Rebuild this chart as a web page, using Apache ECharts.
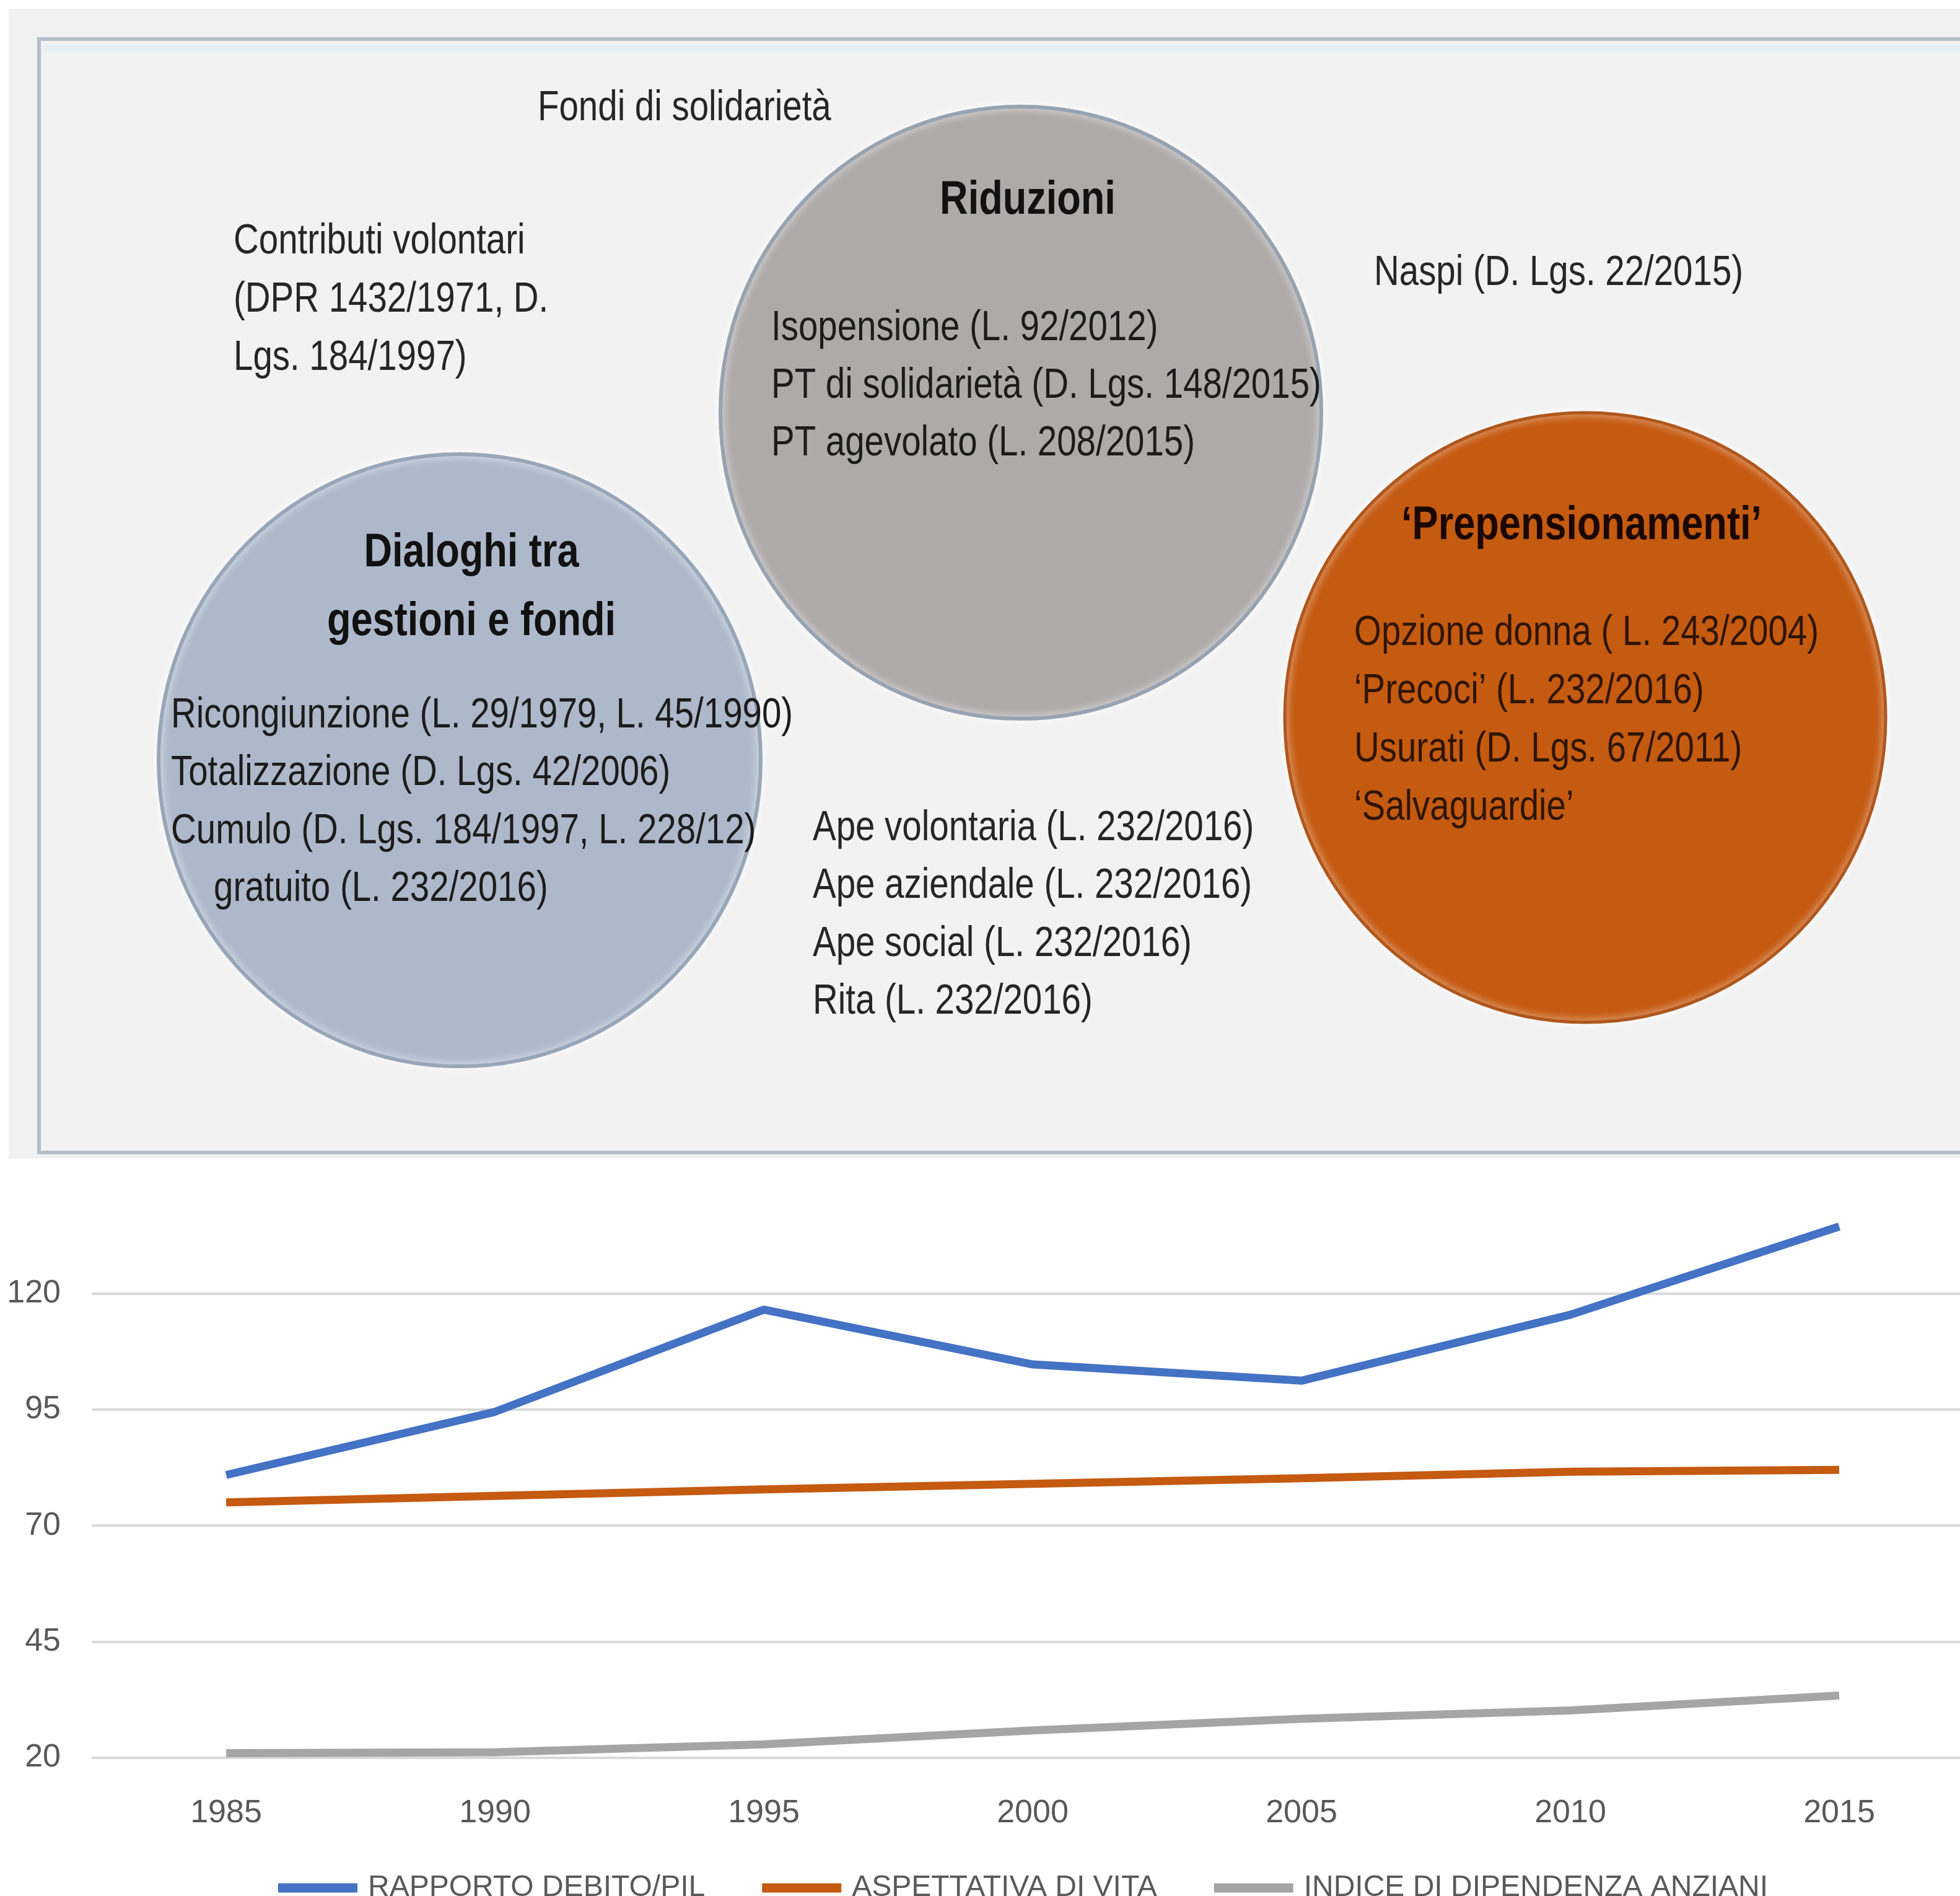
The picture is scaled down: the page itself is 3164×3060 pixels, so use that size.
<!DOCTYPE html>
<html>
<head>
<meta charset="utf-8">
<script src="https://cdn.jsdelivr.net/npm/echarts@6/dist/echarts.min.js"></script>
<style>
html,body{margin:0;padding:0;background:#ffffff;}
#chart{width:3164px;height:3060px;}
</style>
</head>
<body>
<div id="chart"></div>
<script>
// ---- data ----
const years = ['1985', '1990', '1995', '2000', '2005', '2010', '2015'];
const debtToGdp = [80.9, 94.5, 116.5, 104.7, 101.2, 115.4, 134.4];
const lifeExpectancy = [75.0, 76.4, 77.8, 79.0, 80.2, 81.6, 82.0];
const oldAgeDependency = [21.0, 21.2, 22.9, 25.9, 28.4, 30.2, 33.4];
const seriesNames = ['RAPPORTO DEBITO/PIL', 'ASPETTATIVA DI VITA', 'INDICE DI DIPENDENZA ANZIANI'];

// ---- diagram texts ----
const fondiText = ['Fondi di solidarietà'];
const contributiText = ['Contributi volontari', '(DPR 1432/1971, D.', 'Lgs. 184/1997)'];
const riduzioniTitle = ['Riduzioni'];
const riduzioniText = ['Isopensione (L. 92/2012)', 'PT di solidarietà (D. Lgs. 148/2015)', 'PT agevolato (L. 208/2015)'];
const naspiText = ['Naspi (D. Lgs. 22/2015)'];
const dialoghiTitle = ['Dialoghi tra', 'gestioni e fondi'];
const dialoghiText = ['Ricongiunzione (L. 29/1979, L. 45/1990)', 'Totalizzazione (D. Lgs. 42/2006)', 'Cumulo (D. Lgs. 184/1997, L. 228/12)', 'gratuito (L. 232/2016)'];
const apeText = ['Ape volontaria (L. 232/2016)', 'Ape aziendale (L. 232/2016)', 'Ape social (L. 232/2016)', 'Rita (L. 232/2016)'];
const prepTitle = ['\u2018Prepensionamenti\u2019'];
const prepText = ['Opzione donna ( L. 243/2004)', '\u2018Precoci\u2019 (L. 232/2016)', 'Usurati (D. Lgs. 67/2011)', '\u2018Salvaguardie\u2019'];

const FAM = '"Liberation Sans", Arial, sans-serif';
const REG = '68px ' + FAM;
const BOLD = 'bold 76px ' + FAM;
const NARROW = 0.83;

function lines(arr, x, y0, step, font, fill, align, xs) {
  return arr.map((t, i) => ({
    type: 'text', z: 10,
    x: xs ? xs[i] : x, y: y0 + 5 + i * step,
    scaleX: NARROW, scaleY: 1, originX: 0, originY: 0,
    style: {
      text: t, x: 0, y: 0, font: font, fill: fill,
      textAlign: align || 'left', textVerticalAlign: 'middle'
    }
  }));
}

const graphics = [
  { type: 'rect', z: 1, shape: { x: 14, y: 14, width: 3164, height: 1856 }, style: { fill: '#f1f1f1' } },
  { type: 'rect', z: 2, shape: { x: 63, y: 63, width: 3140, height: 1797 },
    style: { fill: '#f2f2f2', stroke: '#b4bec9', lineWidth: 6 } },
  { type: 'rect', z: 2, shape: { x: 70, y: 72, width: 3130, height: 12 }, style: { fill: '#e8f0f7' } },
  // bubbles
  { type: 'ellipse', z: 5, shape: { cx: 1648, cy: 666, rx: 485, ry: 494 },
    style: { fill: '#aeaaaa', stroke: '#97a3b1', lineWidth: 6, shadowBlur: 14, shadowColor: 'rgba(255,255,255,0.9)' } },
  { type: 'ellipse', z: 5, shape: { cx: 742, cy: 1227, rx: 486, ry: 494 },
    style: { fill: '#adb9ca', stroke: '#98a6b8', lineWidth: 6, shadowBlur: 14, shadowColor: 'rgba(255,255,255,0.9)' } },
  { type: 'ellipse', z: 5, shape: { cx: 2559, cy: 1158, rx: 485, ry: 492 },
    style: { fill: '#c55a11', stroke: '#b0571d', lineWidth: 5, shadowBlur: 14, shadowColor: 'rgba(255,255,255,0.9)' } }
]
.concat(lines(fondiText, 868, 170, 0, REG, '#262626'))
.concat(lines(contributiText, 377, 385, 94, REG, '#262626'))
.concat(lines(riduzioniTitle, 1659, 319, 0, BOLD, '#111111', 'center'))
.concat(lines(riduzioniText, 1245, 525, 93, REG, '#1c1c1c'))
.concat(lines(naspiText, 2218, 436, 0, REG, '#262626'))
.concat(lines(dialoghiTitle, 761, 888, 111, BOLD, '#111111', 'center'))
.concat(lines(dialoghiText, 0, 1150, 93.5, REG, '#1c1c1c', 'left', [276, 276, 276, 345]))
.concat(lines(apeText, 1312, 1332, 93.5, REG, '#262626'))
.concat(lines(prepTitle, 2553, 844, 0, BOLD, '#1a0800', 'center'))
.concat(lines(prepText, 2186, 1017, 94, REG, '#2e1503'));

const chart = echarts.init(document.getElementById('chart'), null, { renderer: 'canvas' });
chart.setOption({
  backgroundColor: '#ffffff',
  animation: false,
  graphic: graphics,
  grid: { left: 148, right: -22, top: 1900, bottom: 223, containLabel: false, outerBoundsMode: 'none' },
  legend: {
    left: 444, top: 3014, width: 2700,
    itemWidth: 128, itemHeight: 15, itemGap: 92,
    icon: 'rect',
    textStyle: { fontSize: 48, fontFamily: FAM, color: '#595959', lineHeight: 56, padding: [0, 0, 0, 12] },
    data: seriesNames
  },
  xAxis: {
    type: 'category', data: years, boundaryGap: true,
    axisLine: { show: false }, axisTick: { show: false },
    axisLabel: { fontSize: 52, fontFamily: FAM, color: '#595959', margin: 64 }
  },
  yAxis: {
    type: 'value', min: 20, max: 145, interval: 25,
    axisLine: { show: false }, axisTick: { show: false },
    axisLabel: { fontSize: 52, fontFamily: FAM, color: '#595959', margin: 50,
      formatter: v => (v === 145 ? '' : String(v)) },
    splitLine: { lineStyle: { width: 4, color: ['#d9d9d9', '#d9d9d9', '#d9d9d9', '#d9d9d9', '#d9d9d9', 'rgba(0,0,0,0)'] } }
  },
  series: [
    { name: seriesNames[0], type: 'line', data: debtToGdp, symbol: 'none', lineStyle: { width: 13, color: '#4472c4' }, itemStyle: { color: '#4472c4' } },
    { name: seriesNames[1], type: 'line', data: lifeExpectancy, symbol: 'none', lineStyle: { width: 13, color: '#c55a11' }, itemStyle: { color: '#c55a11' } },
    { name: seriesNames[2], type: 'line', data: oldAgeDependency, symbol: 'none', lineStyle: { width: 13, color: '#a5a5a5' }, itemStyle: { color: '#a5a5a5' } }
  ]
});
</script>
</body>
</html>
